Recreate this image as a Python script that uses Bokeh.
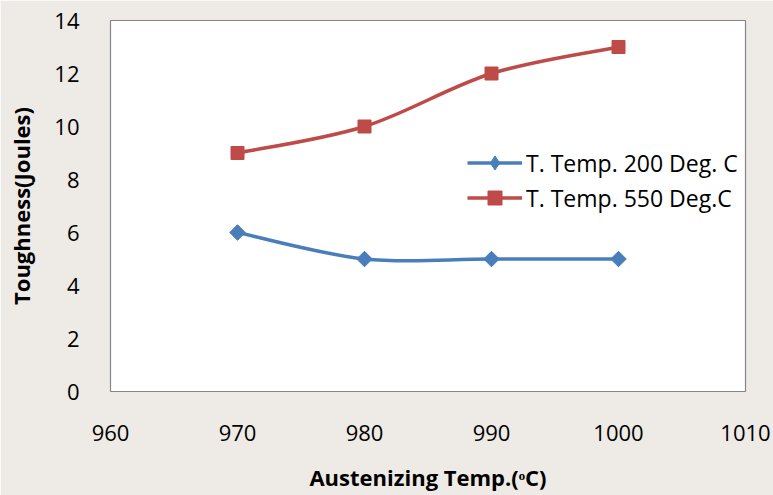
import math
from bokeh.plotting import figure
from bokeh.models import Range1d, FixedTicker, Legend, LegendItem
from bokeh.embed import file_html
from bokeh.resources import INLINE

# ---- data ----
austenizing_temp = [970, 980, 990, 1000]
toughness_200 = [6, 5, 5, 5]
toughness_550 = [9, 10, 12, 13]
series_names = ["T. Temp. 200 Deg. C", "T. Temp. 550 Deg.C"]
x_ticks = [960, 970, 980, 990, 1000, 1010]
y_ticks = [0, 2, 4, 6, 8, 10, 12, 14]

BLUE = "#4a7ebb"
RED = "#be4b48"
FONT = "Open Sans"


def smooth_segments(xs, ys):
    """Excel-like smoothed line: Catmull-Rom control points as cubic Bezier segments."""
    n = len(xs)
    seg = dict(x0=[], y0=[], x1=[], y1=[], cx0=[], cy0=[], cx1=[], cy1=[])
    for i in range(n - 1):
        p0 = (xs[max(i - 1, 0)], ys[max(i - 1, 0)])
        p1 = (xs[i], ys[i])
        p2 = (xs[i + 1], ys[i + 1])
        p3 = (xs[min(i + 2, n - 1)], ys[min(i + 2, n - 1)])
        seg["x0"].append(p1[0]); seg["y0"].append(p1[1])
        seg["x1"].append(p2[0]); seg["y1"].append(p2[1])
        seg["cx0"].append(p1[0] + (p2[0] - p0[0]) / 6.0)
        seg["cy0"].append(p1[1] + (p2[1] - p0[1]) / 6.0)
        seg["cx1"].append(p2[0] - (p3[0] - p1[0]) / 6.0)
        seg["cy1"].append(p2[1] - (p3[1] - p1[1]) / 6.0)
    return seg


p = figure(width=773, height=495, output_backend="svg", toolbar_location=None,
           x_range=Range1d(960, 1010), y_range=Range1d(0, 14),
           min_border_left=110, min_border_right=28, min_border_top=20, min_border_bottom=104)

p.background_fill_color = "white"
p.border_fill_color = "#eeeae5"
p.outline_line_color = "#868686"
p.outline_line_width = 1.2
p.grid.visible = False

# series
b1 = p.bezier(**smooth_segments(austenizing_temp, toughness_200), line_color=BLUE, line_width=3.5)
# diamond used for the legend swatch; hidden under the rotated squares in the plot
k1 = p.scatter(austenizing_temp, toughness_200, marker="diamond", size=15,
               fill_color=BLUE, line_color=BLUE)
s1 = p.scatter(austenizing_temp, toughness_200, marker="square", angle=math.pi / 4, size=11,
               fill_color=BLUE, line_color=BLUE)
b2 = p.bezier(**smooth_segments(austenizing_temp, toughness_550), line_color=RED, line_width=3.5)
s2 = p.scatter(austenizing_temp, toughness_550, marker="square", size=13,
               fill_color=RED, line_color=RED)

legend = Legend(items=[LegendItem(label=series_names[0], renderers=[b1, k1]),
                       LegendItem(label=series_names[1], renderers=[b2, s2])],
                location=(357, 176), padding=0, margin=0, spacing=0,
                glyph_width=55, glyph_height=35, label_standoff=4,
                label_text_font=FONT, label_text_font_size="23px", label_text_color="black",
                border_line_color=None, background_fill_alpha=0)
p.add_layout(legend, "center")

# axes
for ax in (p.xaxis[0], p.yaxis[0]):
    ax.axis_line_color = None
    ax.major_tick_line_color = None
    ax.minor_tick_line_color = None
    ax.major_label_text_font = FONT
    ax.major_label_text_font_size = "22px"
    ax.major_label_text_color = "black"
    ax.axis_label_text_font = FONT
    ax.axis_label_text_font_style = "bold"
    ax.axis_label_text_font_size = "22px"
    ax.axis_label_text_color = "black"

p.xaxis.ticker = FixedTicker(ticks=x_ticks)
p.yaxis.ticker = FixedTicker(ticks=y_ticks)
p.xaxis.axis_label = "Austenizing Temp.(ᵒC)"
p.yaxis.axis_label = "Toughness(Joules)"
p.xaxis.major_label_standoff = 27
p.xaxis.axis_label_standoff = 18
p.yaxis.major_label_standoff = 25
p.yaxis.axis_label_standoff = 15

open("out.html", "w").write(file_html(p, INLINE))
